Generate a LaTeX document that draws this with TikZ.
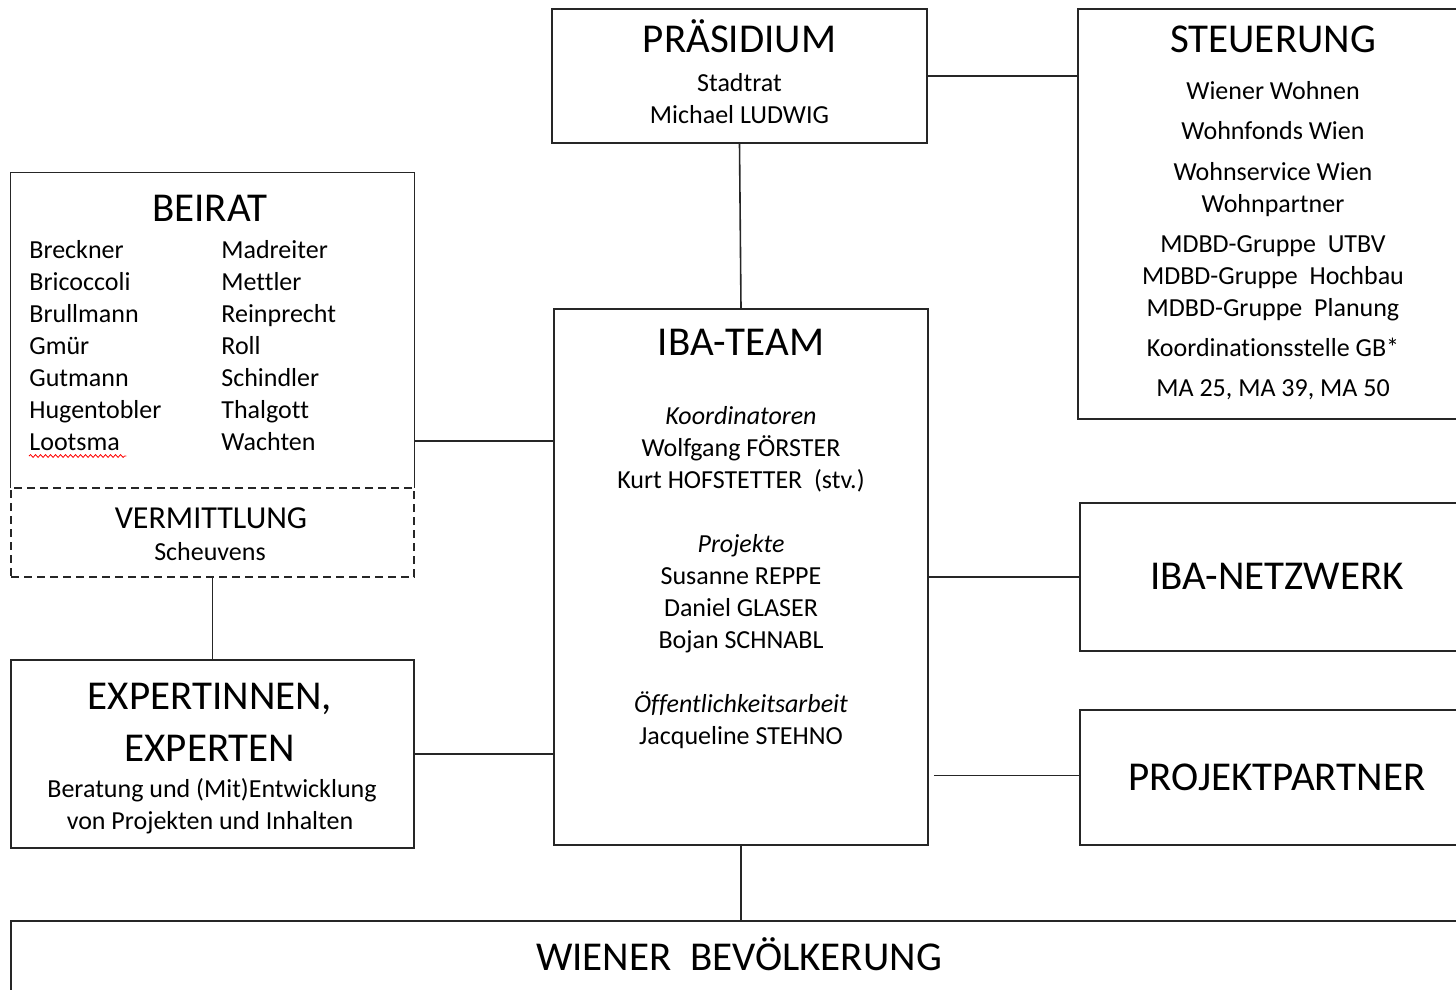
\documentclass[tikz,border=0pt]{standalone}
\usepackage{fontspec}
\setmainfont{Carlito}[Ligatures=NoCommon]
\usetikzlibrary{fit,decorations.pathmorphing}

\begin{document}
\begin{tikzpicture}[x=.5pt,y=-.5pt,
    box/.style={draw=black!85,line width=.8pt,inner sep=0pt},
    dashbox/.style={box,dash pattern=on 4pt off 2.5pt},
    ln/.style={draw=black!85,line width=.8pt},
    ttl/.style={inner sep=0pt,anchor=base,font=\fontsize{20.5}{24}\selectfont},
    mid/.style={inner sep=0pt,anchor=base,font=\fontsize{16}{19}\selectfont},
    txt/.style={inner sep=0pt,anchor=base,font=\fontsize{13}{16}\selectfont}]
  \useasboundingbox (0,0) rectangle (1456,990);
  \clip (0,0) rectangle (1456,990);

  % boxes
  \node[box,fit={(552,9) (927,143)}] (praes) {};
  \node[box,fit={(1078,9) (1470,419)}] (steu) {};
  \node[fit={(11,173) (414,488)},inner sep=0pt] (beirat) {};
  \draw[ln] (beirat.south west) |- (beirat.north east) -- (beirat.south east);
  \node[dashbox,fit={(11,488) (414,577)}] (verm) {};
  \node[box,fit={(11,660) (414,848)}] (expert) {};
  \node[box,fit={(554,309) (928,845)}] (iba) {};
  \node[box,fit={(1080,503) (1474,651)}] (netz) {};
  \node[box,fit={(1080,710) (1474,845)}] (partner) {};
  \node[box,fit={(11,921) (1467,1000)}] (volk) {};

  % praesidium
  \node[ttl] (praesT) at (739.5,53) {PRÄSIDIUM};
  \node[txt] (praesA) at (739.5,92) {Stadtrat};
  \node[txt] (praesB) at (739.5,124) {Michael LUDWIG};

  % steuerung
  \node[ttl] (steuT) at (1273,53) {STEUERUNG};
  \foreach \y/\t [count=\i] in {100/Wiener Wohnen,140/Wohnfonds Wien,
      180/Wohnservice Wien,212/Wohnpartner,252/MDBD-Gruppe\ \ UTBV,
      284/MDBD-Gruppe\ \ Hochbau,316/MDBD-Gruppe\ \ Planung,
      356/Koordinationsstelle GB*,396/{MA 25, MA 39, MA 50}}
    \node[txt] (steu\i) at (1273,\y) {\t};

  % beirat
  \node[ttl] (beiratT) at (210,221) {BEIRAT};
  \foreach \nm [count=\i from 0] in {Breckner,Bricoccoli,Brullmann,Gmür,Gutmann,Hugentobler,Lootsma}
    \node[txt,anchor=base west] (bl\i) at (29,258+32*\i) {\nm};
  \foreach \nm [count=\i from 0] in {Madreiter,Mettler,Reinprecht,Roll,Schindler,Thalgott,Wachten}
    \node[txt,anchor=base west] (br\i) at (221,258+32*\i) {\nm};
  \draw[red,line width=.4pt,decorate,decoration={snake,amplitude=.7pt,segment length=2.5pt}]
    ([yshift=-3pt]bl6.base west) -- ([yshift=-3pt,xshift=3pt]bl6.base east);
  \node[mid] (vermT) at (211,528) {VERMITTLUNG};
  \node[txt] (vermA) at (210,560) {Scheuvens};

  % expertinnen
  \node[ttl] (expT1) at (210,709) {EXPERTINNEN,};
  \node[ttl] (expT2) at (210,761) {EXPERTEN};
  \node[txt] (expA) at (212,797) {Beratung und (Mit)Entwicklung};
  \node[txt] (expB) at (210,829) {von Projekten und Inhalten};

  % iba-team
  \node[ttl] (ibaT) at (741,355) {IBA-TEAM};
  \foreach \y/\t [count=\i] in {424/\textit{Koordinatoren},456/Wolfgang FÖRSTER,
      488/Kurt HOFSTETTER\ \ (stv.),552/\textit{Projekte},584/Susanne REPPE,
      616/Daniel GLASER,648/Bojan SCHNABL,712/\textit{Öffentlichkeitsarbeit},
      744/Jacqueline STEHNO}
    \node[txt] (iba\i) at (741,\y) {\t};

  \node[ttl] (netzT) at (1277,589) {IBA-NETZWERK};
  \node[ttl] (partnerT) at (1277,790) {PROJEKTPARTNER};
  \node[ttl] (volkT) at (739,970) {WIENER\ \ BEVÖLKERUNG};

  % connectors
  \coordinate (bj) at (414,441);
  \draw[ln] (praes.east) -- (praes.east -| steu.west);
  \draw[ln] (praes.south) -- (iba.north);
  \draw[ln] (bj) -- (bj -| iba.west);
  \draw[ln] (verm.south) -- (expert.north);
  \draw[ln] (expert.east) -- (expert.east -| iba.west);
  \draw[ln] (netz.west) -- (netz.west -| iba.east);
  \draw[ln,shorten <=2.5pt] ([yshift=1pt]partner.west -| iba.east) -- ([yshift=1pt]partner.west);
  \draw[ln] (iba.south) -- (iba.south |- volk.north);
\end{tikzpicture}
\end{document}
